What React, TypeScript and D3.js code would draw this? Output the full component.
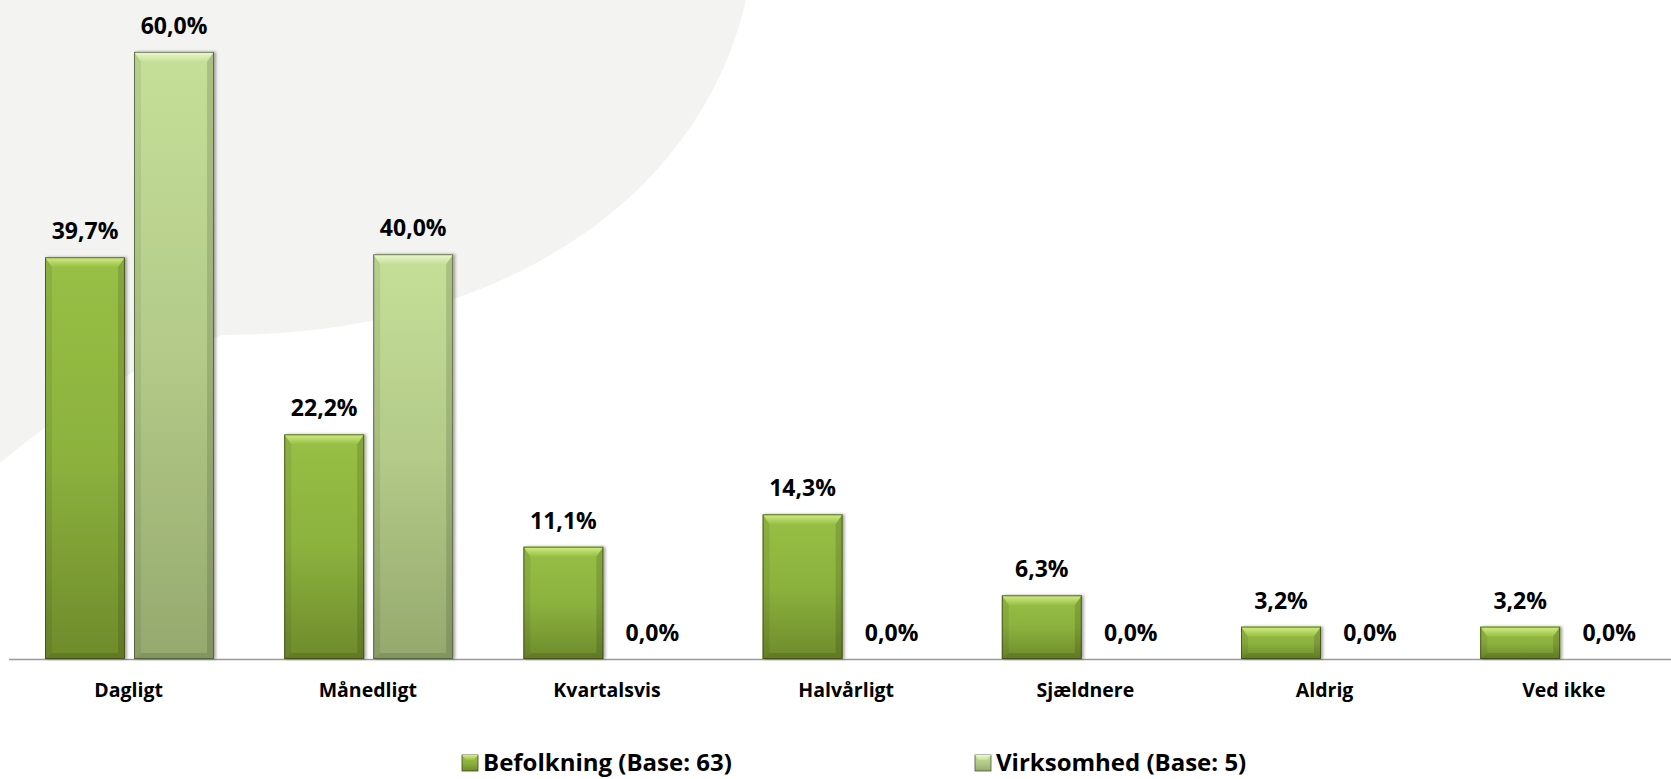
import { useEffect, useRef } from 'react';
import * as d3 from 'd3';

const categories = ['Dagligt', 'Månedligt', 'Kvartalsvis', 'Halvårligt', 'Sjældnere', 'Aldrig', 'Ved ikke'];
const befolkning = [39.7, 22.2, 11.1, 14.3, 6.3, 3.2, 3.2];
const virksomhed = [60.0, 40.0, 0.0, 0.0, 0.0, 0.0, 0.0];
const seriesNames = ['Befolkning (Base: 63)', 'Virksomhed (Base: 5)'];

const W = 1671;
const H = 779;

// colours per series: body gradient top/mid/bottom, top bevel highlight
const styles = [
  { top: '#98bf45', mid: '#8cb23e', bottom: '#6e8b2b', bevel: '#d3ee86', stroke: '#3c4a18' },
  { top: '#c5df98', mid: '#b3ca88', bottom: '#95a96e', bevel: '#eef9d0', stroke: '#4a5836' },
];

const fmt = (v: number) => v.toFixed(1).replace('.', ',') + '%';

export default function App() {
  const svgRef = useRef<SVGSVGElement>(null);

  useEffect(() => {
    if (!svgRef.current) return;
    const svg = d3.select(svgRef.current);
    svg.selectAll('*').remove();

    const defs = svg.append('defs');
    styles.forEach((s, i) => {
      const g = defs.append('linearGradient')
        .attr('id', `body-${i}`)
        .attr('x1', 0).attr('y1', 0).attr('x2', 0).attr('y2', 1);
      g.append('stop').attr('offset', '0%').attr('stop-color', s.top);
      g.append('stop').attr('offset', '50%').attr('stop-color', s.mid);
      g.append('stop').attr('offset', '100%').attr('stop-color', s.bottom);

      const b = defs.append('linearGradient')
        .attr('id', `bevel-${i}`)
        .attr('x1', 0).attr('y1', 0).attr('x2', 0).attr('y2', 1);
      b.append('stop').attr('offset', '0%').attr('stop-color', s.bevel);
      b.append('stop').attr('offset', '100%').attr('stop-color', s.top);
    });
    const shadow = defs.append('filter').attr('id', 'shadow')
      .attr('x', '-20%').attr('y', '-5%').attr('width', '140%').attr('height', '110%');
    shadow.append('feDropShadow')
      .attr('dx', 2).attr('dy', 0).attr('stdDeviation', 1.6)
      .attr('flood-color', '#000').attr('flood-opacity', 0.35);

    // background decoration
    svg.append('rect').attr('width', W).attr('height', H).attr('fill', '#ffffff');
    svg.append('path')
      .attr('d', 'M0,0 L746,0 C700,200 500,335 222,335 Q110,370 0,463 Z')
      .attr('fill', '#f3f3f1');

    const baseY = 659;
    const x0 = d3.scaleBand<string>()
      .domain(categories)
      .range([10, 10 + 7 * 239.2]);
    const x1 = d3.scaleBand<number>()
      .domain([0, 1])
      .range([35, 204])
      .paddingInner(9 / 89);
    const y = d3.scaleLinear()
      .domain([0, 65])
      .range([baseY, baseY - 65 * 10.12]);

    // axis line
    svg.append('line')
      .attr('x1', 9).attr('x2', W)
      .attr('y1', baseY + 0.5).attr('y2', baseY + 0.5)
      .attr('stroke', '#9a9a9a').attr('stroke-width', 1.5);

    const seriesData = [befolkning, virksomhed];
    const bw = x1.bandwidth();

    seriesData.forEach((values, si) => {
      const s = styles[si];
      values.forEach((v, ci) => {
        const bx = (x0(categories[ci]) || 0) + (x1(si) || 0);
        const by = y(v);
        const bh = baseY - by;
        if (bh > 0) {
          const g = svg.append('g');
          g.append('rect')
            .attr('x', bx).attr('y', by)
            .attr('width', bw).attr('height', bh)
            .attr('fill', `url(#body-${si})`)
            .attr('filter', 'url(#shadow)');
          const bt = Math.min(10, bh / 3);
          const bs = 7;
          const bb = Math.min(6, bh / 4);
          // top bevel
          g.append('path')
            .attr('d', `M${bx},${by} L${bx + bw},${by} L${bx + bw - bs},${by + bt} L${bx + bs},${by + bt} Z`)
            .attr('fill', `url(#bevel-${si})`);
          // left bevel
          g.append('path')
            .attr('d', `M${bx},${by} L${bx + bs},${by + bt} L${bx + bs},${baseY - bb} L${bx},${baseY} Z`)
            .attr('fill', '#000').attr('opacity', 0.07);
          // right bevel
          g.append('path')
            .attr('d', `M${bx + bw},${by} L${bx + bw - bs},${by + bt} L${bx + bw - bs},${baseY - bb} L${bx + bw},${baseY} Z`)
            .attr('fill', '#000').attr('opacity', 0.13);
          // bottom bevel
          g.append('path')
            .attr('d', `M${bx},${baseY} L${bx + bs},${baseY - bb} L${bx + bw - bs},${baseY - bb} L${bx + bw},${baseY} Z`)
            .attr('fill', '#000').attr('opacity', 0.12);
          g.append('rect')
            .attr('x', bx + 0.5).attr('y', by + 0.5)
            .attr('width', bw - 1).attr('height', bh - 1)
            .attr('fill', 'none')
            .attr('stroke', s.stroke).attr('stroke-width', 1).attr('opacity', 0.8);
        }
        svg.append('text')
          .attr('x', bx + bw / 2)
          .attr('y', by - 18)
          .attr('text-anchor', 'middle')
          .attr('font-family', '"Open Sans", sans-serif')
          .attr('font-weight', 700)
          .attr('font-size', 23)
          .attr('fill', '#000')
          .text(fmt(v));
      });
    });

    // category labels
    svg.append('g')
      .selectAll('text')
      .data(categories)
      .join('text')
      .attr('x', d => (x0(d) || 0) + x0.bandwidth() / 2 - 1)
      .attr('y', 697)
      .attr('text-anchor', 'middle')
      .attr('font-family', '"Open Sans", sans-serif')
      .attr('font-weight', 700)
      .attr('font-size', 19.5)
      .attr('fill', '#000')
      .text(d => d);

    // legend
    const legendX = [462, 975];
    seriesNames.forEach((name, i) => {
      const lg = svg.append('g').attr('transform', `translate(${legendX[i]}, 755)`);
      lg.append('rect')
        .attr('width', 16).attr('height', 16)
        .attr('fill', `url(#body-${i})`)
        .attr('stroke', styles[i].stroke).attr('stroke-width', 0.8);
      lg.append('path')
        .attr('d', 'M0,0 L16,0 L12,5 L4,5 Z')
        .attr('fill', `url(#bevel-${i})`);
      lg.append('text')
        .attr('x', 21)
        .attr('y', 16)
        .attr('font-family', '"Open Sans", sans-serif')
        .attr('font-weight', 700)
        .attr('font-size', 24)
        .attr('fill', '#000')
        .text(name);
    });
  }, []);

  return (
    <svg
      ref={svgRef}
      width={W}
      height={H}
      viewBox={`0 0 ${W} ${H}`}
      style={{ position: 'absolute', left: 0, top: 0, display: 'block' }}
    />
  );
}
